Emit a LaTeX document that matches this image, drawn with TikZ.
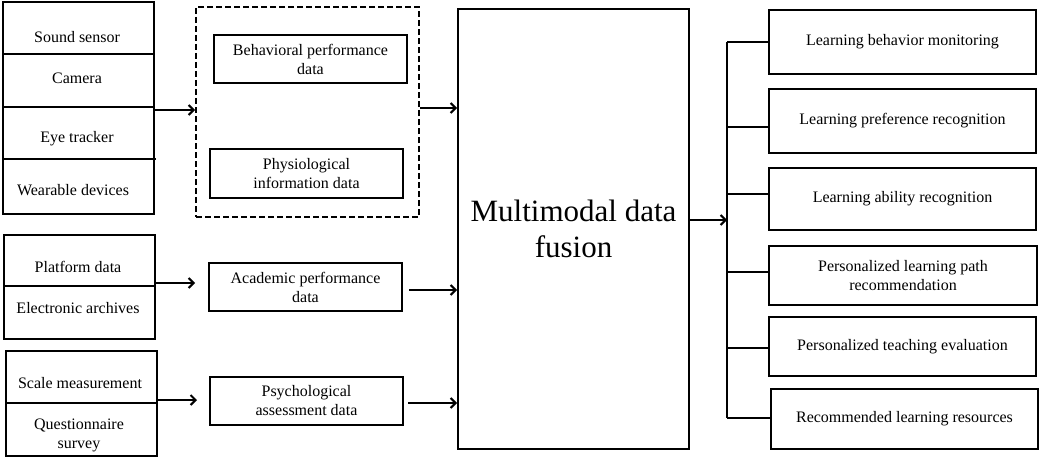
\documentclass[tikz,border=0pt]{standalone}
\usepackage{fontspec}
\setmainfont{Liberation Serif}
\usetikzlibrary{arrows.meta}
\begin{document}
\begin{tikzpicture}[x=1pt,y=-1pt,
  bx/.style={draw,line width=2pt,anchor=north west,inner sep=0pt,align=center,font=\fontsize{16}{19}\selectfont},
  lbl/.style={font=\fontsize{16}{19}\selectfont,align=center,inner sep=0pt},
  ln/.style={line width=2pt},
  arr/.style={line width=2pt,-{Straight Barb[length=5pt,width=10pt]}}]
\useasboundingbox (0,0) rectangle (1039,460);
% group 1
\node[bx,minimum width=151pt,minimum height=212pt] (g1) at (2,1) {};
\draw[ln] (2,54) -- (153,54) (2,107) -- (153,107) (2,159) -- (156,159);
\node[lbl] (s1) at (77,37) {Sound sensor};
\node[lbl] (s2) at (77,78) {Camera};
\node[lbl] (s3) at (77,139) {Eye tracker};
\node[lbl] (s4) at (73,190) {Wearable devices};
% group 2
\node[bx,minimum width=151pt,minimum height=104pt] (g2) at (3,234) {};
\draw[ln] (3,286) -- (154,286);
\node[lbl] (p1) at (78,267) {Platform data};
\node[lbl] (p2) at (78,308) {Electronic archives};
% group 3
\node[bx,minimum width=151pt,minimum height=105pt] (g3) at (5,350) {};
\draw[ln] (5,403) -- (156,403);
\node[lbl] (q1) at (80,383) {Scale measurement};
\node[lbl] (q2) at (79,435) {Questionnaire\\survey};
% dashed
\node[bx,dash pattern=on 6pt off 3pt,minimum width=223pt,minimum height=210pt] (dash) at (195,6) {};
\node[bx,minimum width=193pt,minimum height=48pt] (beh) at (213,34) {Behavioral performance\\data};
\node[bx,minimum width=193pt,minimum height=49pt] (phy) at (209,148) {Physiological\\information data};
\node[bx,minimum width=193pt,minimum height=48pt] (aca) at (208,262) {Academic performance\\data};
\node[bx,minimum width=193pt,minimum height=48pt] (psy) at (209,376) {Psychological\\assessment data};
% main
\node[bx,minimum width=231pt,minimum height=440pt,font=\fontsize{31}{36}\selectfont] (mm) at (457,8) {Multimodal data\\fusion};
% arrows left
\draw[arr] (g1.east |- 0,110) -- (dash.west |- 0,110);
\draw[arr] (dash.east |- 0,108) -- (mm.west |- 0,108);
\draw[arr] (g2.east |- 0,283) -- (195,283);
\draw[arr] (409,290) -- (mm.west |- 0,290);
\draw[arr] (g3.east |- 0,400) -- (197,400);
\draw[arr] (408,403) -- (mm.west |- 0,403);
% right
\coordinate (hub) at (727,220);
\draw[arr] (mm.east |- hub) -- (hub);
\draw[ln] (727,42) -- (727,418);
\node[bx,minimum width=267pt,minimum height=64pt] (r1) at (768,9) {Learning behavior monitoring};
\node[bx,minimum width=267pt,minimum height=64pt] (r2) at (768,88) {Learning preference recognition};
\node[bx,minimum width=267pt,minimum height=62pt] (r3) at (768,167) {Learning ability recognition};
\node[bx,minimum width=268pt,minimum height=59pt] (r4) at (768,245) {Personalized learning path\\recommendation};
\node[bx,minimum width=267pt,minimum height=59pt] (r5) at (768,316) {Personalized teaching evaluation};
\node[bx,minimum width=267pt,minimum height=60pt] (r6) at (770,388) {Recommended learning resources};
\draw[ln] (727,42) -- (r1.west |- 0,42);
\draw[ln] (727,127) -- (r2.west |- 0,127);
\draw[ln] (727,194) -- (r3.west |- 0,194);
\draw[ln] (727,272) -- (r4.west |- 0,272);
\draw[ln] (727,348) -- (r5.west |- 0,348);
\draw[ln] (727,418) -- (r6.west |- 0,418);
\end{tikzpicture}
\end{document}
